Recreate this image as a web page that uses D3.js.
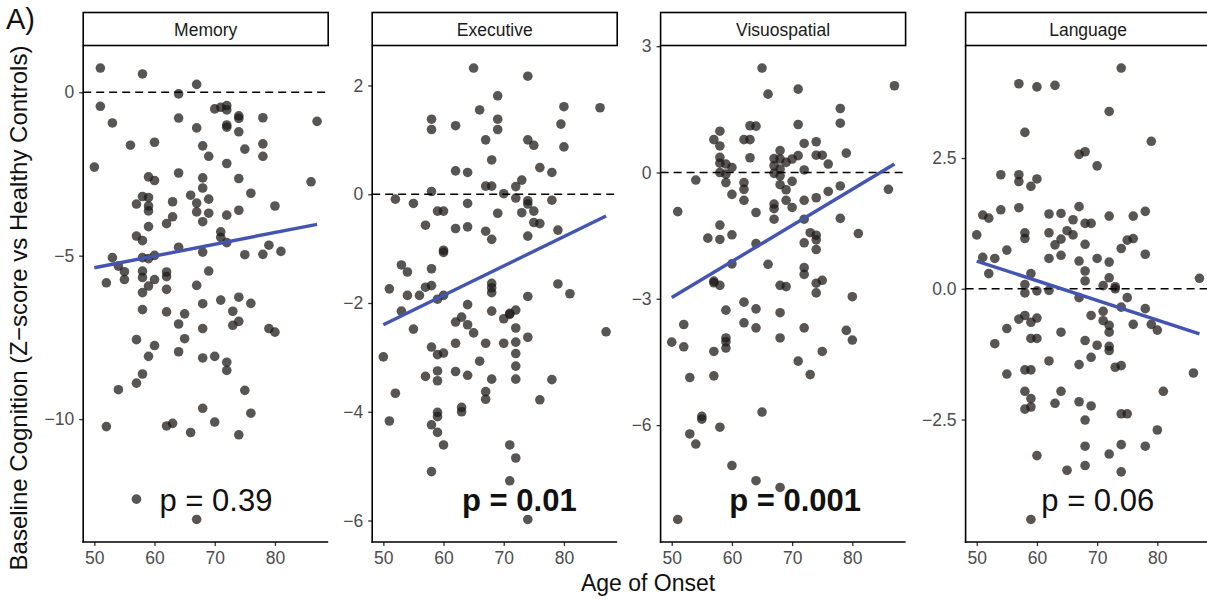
<!DOCTYPE html>
<html>
<head>
<meta charset="utf-8">
<script src="https://cdn.jsdelivr.net/npm/d3@7"></script>
<style>
  body { margin: 0; background: #fff; }
  svg { display: block; }
  text { font-family: "Liberation Sans", Arial, Helvetica, sans-serif; }
</style>
</head>
<body>
<svg id="chart" width="1207" height="600"></svg>
<script>
// Cognitive domains shown as facets, with regression p-values
const domains = ["Memory", "Executive", "Visuospatial", "Language"];
const pValues = ["0.39", "0.01", "0.001", "0.06"];
const pBold = [false, true, true, false];

// Axis ticks
const xTicks = [50, 60, 70, 80];
const yTicks = [[-10, -5, 0], [-6, -4, -2, 0, 2], [-6, -3, 0, 3], [-2.5, 0, 2.5]];
const yTickDecimals = [0, 0, 0, 1];

// Linear fit (score at the youngest and oldest age of onset)
const fitAge = [50, 87];
const fitScore = [[-5.37, -4.04], [-2.40, -0.40], [-2.97, 0.20], [0.53, -0.86]];

// [age of onset, baseline z-score]
const memoryPoints = [
  [51,0.74],[58,0.56],[64,-0.05],[67,0.24],[51,-0.43],[53,-0.94],[50,-2.29],[56,-1.62],[60,-1.53],[64,-0.79],
  [67,-1.09],[70,-0.51],[71,-0.46],[72,-0.41],[72,-0.54],[74,-0.72],[74,-0.80],[72,-1.00],[72,-1.07],[74,-1.21],
  [78,-0.78],[87,-0.89],[68,-1.64],[69,-1.96],[75,-1.74],[78,-1.58],[78,-1.96],[72,-2.18],[64,-2.47],[59,-2.59],
  [60,-2.70],[68,-2.62],[68,-2.93],[74,-2.64],[76,-3.09],[86,-2.74],[58,-3.19],[59,-3.22],[57,-3.42],[59,-3.48],
  [59,-3.63],[63,-3.35],[66,-3.15],[67,-3.39],[69,-3.27],[67,-3.66],[69,-3.70],[68,-3.96],[72,-3.76],[74,-3.61],
  [80,-3.48],[63,-3.81],[62,-4.02],[59,-4.11],[57,-4.40],[58,-4.54],[71,-4.27],[71,-4.44],[72,-4.60],[64,-4.74],
  [68,-4.89],[79,-4.68],[81,-4.87],[75,-4.97],[78,-4.96],[53,-5.06],[54,-5.32],[55,-5.49],[55,-5.73],[52,-5.83],
  [58,-5.06],[59,-5.09],[60,-4.99],[58,-5.47],[58,-5.67],[60,-5.73],[59,-5.93],[58,-6.13],[62,-5.50],[62,-5.64],
  [62,-6.03],[67,-5.91],[69,-5.47],[68,-6.47],[71,-6.36],[74,-6.27],[76,-6.46],[58,-6.65],[62,-6.72],[65,-6.78],
  [64,-7.09],[68,-7.23],[73,-6.70],[73,-7.13],[74,-7.01],[79,-7.23],[80,-7.34],[57,-7.57],[60,-7.75],[65,-7.54],
  [59,-8.08],[64,-7.94],[68,-8.13],[70,-8.08],[72,-8.26],[72,-8.51],[58,-8.62],[57,-8.90],[54,-9.10],[75,-9.12],
  [68,-9.67],[76,-9.82],[52,-10.23],[62,-10.21],[63,-10.13],[66,-10.41],[70,-10.09],[74,-10.48],[57,-12.45],[67,-13.07]
];

const executivePoints = [
  [65,2.32],[74,2.17],[69,1.81],[66,1.55],[80,1.61],[86,1.59],[58,1.38],[58,1.19],[62,1.26],[69,1.38],
  [69,1.19],[67,1.00],[74,1.00],[75,0.90],[80,0.87],[79.5,1.29],[68,0.63],[62,0.43],[64,0.40],[76,0.49],
  [78,0.40],[73,0.26],[67,0.15],[68,0.15],[72,0.14],[58,0.05],[70,0.01],[52,-0.09],[55,-0.17],[72,-0.07],
  [74,-0.12],[74,-0.18],[78,-0.11],[64,-0.17],[59,-0.31],[60,-0.31],[69,-0.35],[73,-0.34],[75,-0.31],[75,-0.52],
  [76,-0.54],[57,-0.57],[62,-0.63],[64,-0.60],[67,-0.68],[68,-0.83],[74,-0.77],[79,-0.66],[60,-1.03],[60,-1.07],
  [53,-1.30],[54,-1.43],[58,-1.37],[51,-1.74],[57,-1.71],[58,-1.68],[54,-1.86],[56,-1.86],[60,-1.86],[68,-1.64],
  [68,-1.72],[68,-1.81],[74,-1.88],[79,-1.65],[81,-1.83],[59,-1.93],[68,-2.15],[64,-2.03],[53,-2.15],[55,-2.48],
  [62,-2.35],[63,-2.26],[64,-2.40],[65,-2.55],[70,-2.29],[71,-2.19],[71,-2.21],[72,-2.13],[72,-2.46],[74,-2.63],
  [87,-2.53],[50,-2.99],[58,-2.81],[59,-2.95],[60,-2.92],[62,-2.74],[67,-2.74],[70,-2.74],[72,-2.72],[72,-2.93],
  [66,-3.07],[72,-3.16],[59,-3.25],[62,-3.26],[64,-3.33],[57,-3.35],[59,-3.43],[68,-3.40],[72,-3.40],[78,-3.41],
  [52,-3.66],[67,-3.63],[67,-3.77],[76,-3.78],[51,-4.17],[59,-4.01],[59,-4.09],[63,-3.92],[63,-4.00],[58,-4.24],
  [59,-4.38],[60,-4.61],[71,-4.61],[72,-4.85],[58,-5.10],[71,-5.27],[74,-5.98]
];

const visuospatialPoints = [
  [65,2.48],[66,1.86],[71,1.98],[87,2.06],[78,1.52],[78,1.17],[71,1.14],[63,1.11],[64,1.10],[58,0.98],
  [57,0.78],[58,0.63],[62,0.78],[63,0.78],[63,0.35],[72,0.69],[74,0.73],[74,0.41],[75,0.41],[79,0.46],
  [76,0.20],[58,0.36],[58,0.22],[59,0.20],[60,0.12],[58,0.00],[59,-0.04],[59,-0.24],[60,-0.52],[54,-0.18],
  [51,-0.93],[62,-0.24],[62,-0.40],[62,-0.66],[64,-0.95],[68,0.52],[67,0.33],[68,0.32],[69,0.24],[70,0.32],
  [71,0.40],[67,0.16],[68,0.08],[67,-0.02],[68,-0.08],[68,-0.29],[70,-0.21],[69,-0.41],[69,-0.66],[70,-0.83],
  [72,0.06],[67,-0.75],[67,-0.86],[67,-1.11],[72,-0.66],[74,-0.60],[76,-0.45],[78,-0.32],[86,-0.40],[72,-1.11],
  [78,-1.09],[58,-1.25],[56,-1.56],[58,-1.59],[60,-1.48],[64,-1.69],[73,-1.43],[74,-1.49],[74,-1.60],[72,-1.67],
  [74,-1.83],[81,-1.45],[60,-2.17],[66,-2.18],[72,-2.26],[72,-2.42],[57,-2.58],[57,-2.62],[58,-2.68],[68,-2.68],
  [69,-2.71],[74,-2.63],[75,-2.56],[74,-2.86],[80,-2.95],[59,-3.27],[62,-3.08],[64,-3.24],[62,-3.57],[64,-3.69],
  [68,-3.33],[68,-3.93],[72,-3.69],[52,-3.61],[50,-4.03],[52,-4.14],[59,-3.93],[59,-4.02],[59,-4.17],[57,-4.25],
  [57,-4.83],[53,-4.87],[71,-4.48],[73,-4.80],[75,-4.25],[79,-3.75],[80,-3.98],[55,-5.79],[55,-5.86],[58,-6.05],
  [53,-6.21],[54,-6.45],[65,-5.69],[60,-6.96],[64,-7.32],[68,-7.48],[51,-8.24]
];

const languagePoints = [
  [74,4.22],[57,3.92],[60,3.86],[63,3.89],[72,3.39],[58,2.99],[79,2.82],[67,2.57],[68,2.62],[70,2.35],
  [54,2.18],[57,2.18],[57,2.05],[59,1.96],[60,2.10],[51,1.41],[52,1.35],[54,1.51],[57,1.55],[50,1.03],
  [58,1.07],[58,0.96],[62,1.43],[64,1.44],[67,1.57],[66,1.32],[68,1.25],[69,1.25],[72,1.39],[76,1.39],
  [78,1.48],[62,1.07],[65,1.11],[66,1.03],[64,0.95],[63,0.84],[68,0.85],[55,0.74],[51,0.60],[53,0.58],
  [62,0.58],[64,0.64],[67,0.53],[70,0.58],[72,0.51],[74,0.77],[75,0.93],[76,0.96],[78,0.66],[52,0.29],
  [59,0.29],[58,0.08],[68,0.34],[68,0.15],[71,0.06],[72,0.21],[73,0.04],[87,0.20],[58,-0.08],[60,-0.04],
  [62,-0.03],[67,-0.17],[73,0.00],[75,-0.17],[74,-0.35],[78,-0.38],[69,-0.51],[71,-0.43],[71,-0.61],[72,-0.70],
  [72,-0.83],[76,-0.68],[79,-0.68],[80,-0.79],[57,-0.58],[58,-0.51],[59,-0.64],[60,-0.56],[55,-0.76],[64,-0.83],
  [59,-0.95],[60,-0.95],[68,-0.99],[70,-1.08],[72,-1.10],[72,-1.18],[53,-1.05],[69,-1.31],[62,-1.38],[67,-1.45],
  [73,-1.50],[74,-1.47],[55,-1.63],[58,-1.55],[59,-1.55],[58,-1.96],[59,-2.10],[59,-2.26],[58,-2.30],[64,-1.96],
  [63,-2.19],[67,-2.16],[69,-2.24],[68,-2.51],[74,-2.39],[75,-2.39],[81,-1.96],[80,-2.70],[68,-3.01],[74,-2.98],
  [78,-3.01],[72,-3.16],[60,-3.19],[65,-3.47],[68,-3.38],[74,-3.50],[86,-1.61],[59,-4.41]
];

const panelData = [memoryPoints, executivePoints, visuospatialPoints, languagePoints];

// ---- layout ----
const panelLeft = [83.2, 372.2, 660.6, 965.6];
const panelWidth = 245;
const plotTop = 45.5, plotBottom = 542;
const stripTop = 12.5;
const pLabelX = [70.2, 72.6, 70.5, 70.1];   // centre of the p-value label, in years

const svg = d3.select("#chart");
const minus = s => s.replace("-", "\u2212");

// shared x domain with 5% padding (facet_wrap, free y)
const allAges = panelData.flat().map(d => d[0]);
const [ax0, ax1] = d3.extent(allAges);
const xPad = (ax1 - ax0) * 0.05;

panelData.forEach((pts, i) => {
  const left = panelLeft[i];
  const g = svg.append("g").attr("transform", `translate(${left},0)`);

  const x = d3.scaleLinear().domain([ax0 - xPad, ax1 + xPad]).range([0, panelWidth]);
  const [y0, y1] = d3.extent(pts, d => d[1]);
  const yPad = (y1 - y0) * 0.05;
  const y = d3.scaleLinear().domain([y0 - yPad, y1 + yPad]).range([plotBottom, plotTop]);

  // strip
  g.append("rect")
    .attr("x", 0).attr("y", stripTop)
    .attr("width", panelWidth).attr("height", plotTop - stripTop)
    .attr("fill", "#fff").attr("stroke", "#000").attr("stroke-width", 1.6);
  g.append("text")
    .attr("x", panelWidth / 2).attr("y", 36)
    .attr("text-anchor", "middle")
    .attr("font-size", 17.5).attr("fill", "#1a1a1a")
    .text(domains[i]);

  // points
  g.append("g").selectAll("circle").data(pts).join("circle")
    .attr("cx", d => x(d[0])).attr("cy", d => y(d[1]))
    .attr("r", 4.8)
    .attr("fill", "#1e1a17").attr("fill-opacity", 0.74);

  // reference line at z = 0
  g.append("line")
    .attr("x1", 0).attr("x2", panelWidth)
    .attr("y1", y(0)).attr("y2", y(0))
    .attr("stroke", "#000").attr("stroke-width", 1.6)
    .attr("stroke-dasharray", "8,5");

  // linear fit
  g.append("line")
    .attr("x1", x(fitAge[0])).attr("x2", x(fitAge[1]))
    .attr("y1", y(fitScore[i][0])).attr("y2", y(fitScore[i][1]))
    .attr("stroke", "#4355b0").attr("stroke-width", 3.4)
    .attr("stroke-linecap", "butt");

  // axes
  const fmt = yTickDecimals[i] ? d3.format(".1f") : d3.format("d");
  const yAxis = g.append("g")
    .call(d3.axisLeft(y).tickValues(yTicks[i]).tickSize(4).tickPadding(5)
      .tickFormat(v => minus(fmt(v))));
  const xAxis = g.append("g").attr("transform", `translate(0,${plotBottom})`)
    .call(d3.axisBottom(x).tickValues(xTicks).tickSize(4).tickPadding(6)
      .tickFormat(d3.format("d")));
  [xAxis, yAxis].forEach(a => {
    a.select(".domain").remove();
    a.selectAll(".tick line").attr("stroke", "#333").attr("stroke-width", 1.3);
    a.selectAll(".tick text").attr("fill", "#4d4d4d").attr("font-size", 17.5)
      .attr("font-family", "'Liberation Sans', Arial, sans-serif");
  });
  g.append("line").attr("x1", 0).attr("x2", 0).attr("y1", plotTop).attr("y2", plotBottom + 0.8)
    .attr("stroke", "#000").attr("stroke-width", 1.6);
  g.append("line").attr("x1", -0.8).attr("x2", panelWidth).attr("y1", plotBottom).attr("y2", plotBottom)
    .attr("stroke", "#000").attr("stroke-width", 1.6);

  // p-value annotation
  g.append("text")
    .attr("x", x(pLabelX[i])).attr("y", plotBottom - 31)
    .attr("text-anchor", "middle")
    .attr("font-size", 31)
    .attr("font-weight", pBold[i] ? "bold" : "normal")
    .attr("fill", "#111")
    .text(`p = ${pValues[i]}`);
});

// axis titles and panel tag
svg.append("text")
  .attr("x", 648).attr("y", 591)
  .attr("text-anchor", "middle").attr("font-size", 23).attr("fill", "#111")
  .text("Age of Onset");
svg.append("text")
  .attr("transform", "translate(27,308) rotate(-90)")
  .attr("text-anchor", "middle").attr("font-size", 24).attr("fill", "#111")
  .text("Baseline Cognition (Z\u2212score vs Healthy Controls)");
svg.append("text")
  .attr("x", 6).attr("y", 29)
  .attr("font-size", 29).attr("fill", "#111")
  .text("A)");
</script>
</body>
</html>
